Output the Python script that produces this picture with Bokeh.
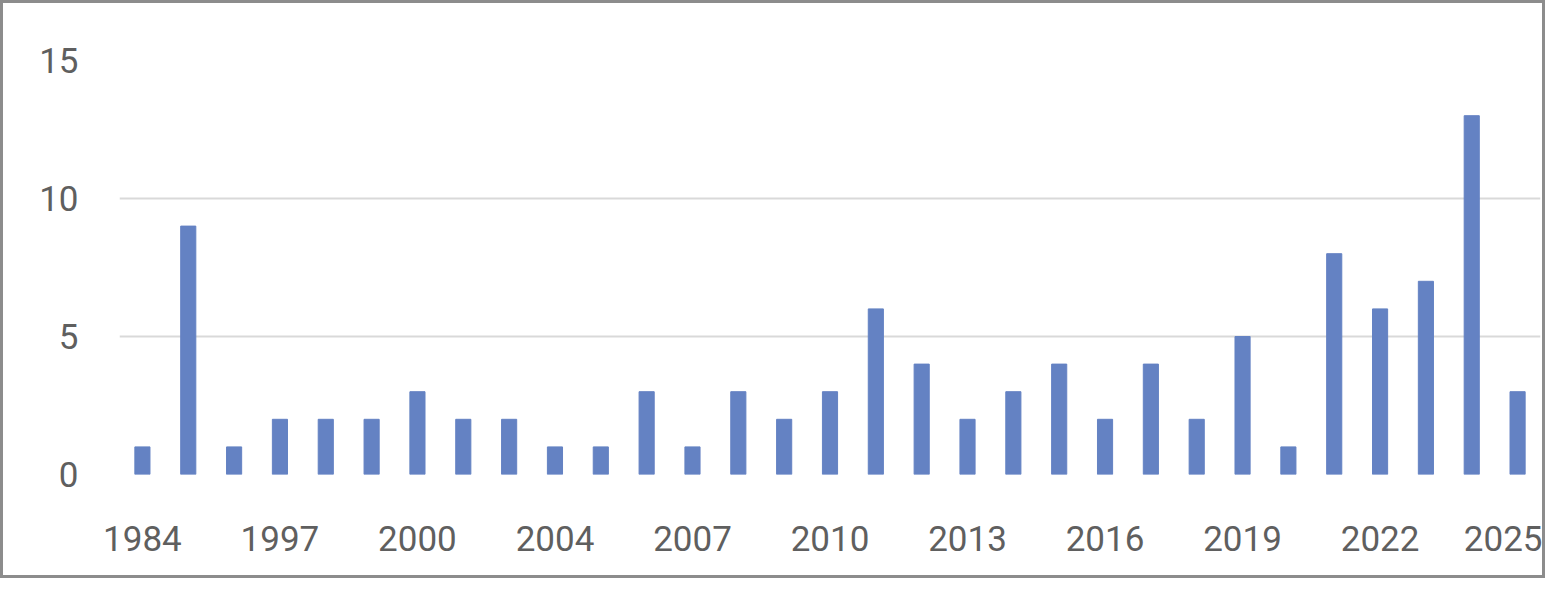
from bokeh.plotting import figure
from bokeh.models import ColumnDataSource, Range1d, FixedTicker
from bokeh.embed import file_html
from bokeh.resources import INLINE

years = ["1984", "1985", "1995", "1997", "1998", "1999", "2000", "2001", "2003", "2004",
         "2005", "2006", "2007", "2008", "2009", "2010", "2011", "2012", "2013", "2014",
         "2015", "2016", "2017", "2018", "2019", "2020", "2021", "2022", "2023", "2024", "2025"]
counts = [1, 9, 1, 2, 2, 2, 3, 2, 2, 1, 1, 3, 1, 3, 2, 3, 6, 4, 2, 3, 4, 2, 4, 2, 5, 1, 8, 6, 7, 13, 3]
y_ticks = [0, 5, 10, 15]

idx = list(range(len(years)))
src = ColumnDataSource(dict(x=idx, top=counts, year=years))

p = figure(width=1545, height=578, output_backend="svg", toolbar_location=None,
           x_range=Range1d(-0.5, len(years) - 0.5), y_range=Range1d(0, 15),
           min_border_left=116, min_border_right=8, min_border_top=57, min_border_bottom=107)
p.styles = {"border": "3px solid #8c8c8c"}

p.vbar(x="x", top="top", width=0.33, bottom=0, source=src, color="#6482c3")

p.outline_line_color = None
p.xgrid.grid_line_color = None
p.ygrid.grid_line_color = "#d9d9d9"
p.ygrid.grid_line_width = 2
p.yaxis.ticker = FixedTicker(ticks=y_ticks)
label_ticks = idx[::3]
p.xaxis.ticker = FixedTicker(ticks=label_ticks)
p.xaxis.major_label_overrides = {i: years[i] for i in label_ticks}

for ax in (p.xaxis, p.yaxis):
    ax.axis_line_color = None
    ax.major_tick_line_color = None
    ax.minor_tick_line_color = None
    ax.major_label_text_font = "Roboto"
    ax.major_label_text_font_size = "35px"
    ax.major_label_text_color = "#5f5f5f"
p.xaxis.major_label_standoff = 45
p.yaxis.major_label_standoff = 35

open("out.html", "w").write(file_html(p, INLINE))
